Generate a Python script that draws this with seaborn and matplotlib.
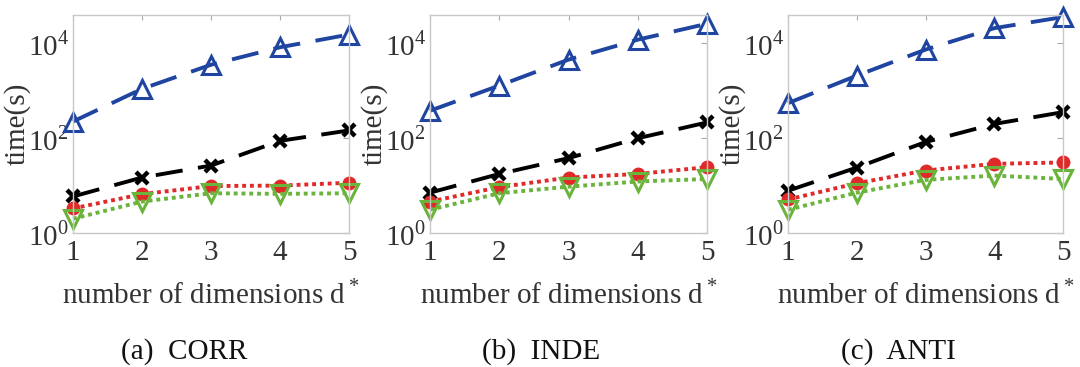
import matplotlib.pyplot as plt
import seaborn as sns
import numpy as np
import pandas as pd

sns.set_style("white")
plt.rcParams['font.family'] = ['Liberation Serif', 'DejaVu Serif']
plt.rcParams['mathtext.fontset'] = 'custom'
plt.rcParams['mathtext.rm'] = 'Liberation Serif'

# data
dims = [1, 2, 3, 4, 5]
panels = ["(a)  CORR", "(b)  INDE", "(c)  ANTI"]

blue_corr = [225, 1100, 3550, 8300, 15400]
black_corr = [5.9, 14.8, 26.5, 88, 146]
red_corr = [3.3, 6.6, 9.8, 10.0, 11.5]
green_corr = [2.0, 4.6, 6.9, 6.7, 6.9]

blue_inde = [380, 1290, 4550, 12000, 26000]
black_inde = [7.1, 17.6, 38, 100, 215]
red_inde = [4.6, 9.3, 14.8, 17.6, 24.5]
green_inde = [3.1, 6.9, 9.5, 12.2, 13.8]

blue_anti = [550, 2090, 7400, 21000, 36000]
black_anti = [7.8, 24, 83, 200, 355]
red_anti = [5.1, 11.2, 20.8, 28.8, 30.8]
green_anti = [3.1, 7.1, 13.2, 16.3, 13.8]

all_data = [
    [blue_corr, black_corr, red_corr, green_corr],
    [blue_inde, black_inde, red_inde, green_inde],
    [blue_anti, black_anti, red_anti, green_anti],
]

# series styles: color, marker, dashes, marker face
styles = [
    dict(color="#1f45a0", marker="^", dashes=(7, 4), mfc="none", ms=13, mew=2.2),
    dict(color="black", marker="x", dashes=(7, 4), mfc="black", ms=9, mew=3.2),
    dict(color="#e02a2a", marker="o", dashes=(1, 1), mfc="#e02a2a", ms=10, mew=0),
    dict(color="#6ab43c", marker="v", dashes=(1, 1), mfc="none", ms=13, mew=2.2),
]

fig = plt.figure(figsize=(10.8, 3.67), dpi=100, facecolor='w')
lefts = [73, 430, 788]
widths = [276, 277, 275]

for i in range(3):
    ax = fig.add_axes([lefts[i] / 1080, 1 - 233 / 367, widths[i] / 1080, 218 / 367])
    for vals, st in zip(all_data[i], styles):
        df = pd.DataFrame({"d": dims, "t": vals})
        sns.lineplot(data=df, x="d", y="t", ax=ax, color=st["color"], lw=2.8,
                     marker=st["marker"], markersize=st["ms"],
                     markerfacecolor=st["mfc"], markeredgecolor=st["color"],
                     markeredgewidth=st["mew"], dashes=False, clip_on=False)
        ax.lines[-1].set_dashes(st["dashes"])
    ax.set_yscale("log")
    ax.set_xlim(1, 5)
    ax.set_ylim(1, 10 ** 4.6)
    ax.set_xticks(dims)
    ax.set_yticks([1, 100, 10000])
    ax.set_yticklabels([r"$10^0$", r"$10^2$", r"$10^4$"])
    ax.tick_params(axis='both', which='both', direction='in', top=True, right=True,
                   labelsize=21, colors="#aaaaaa", labelcolor="#333333")
    ax.tick_params(axis='y', which='major', length=4, pad=3)
    ax.tick_params(axis='y', which='minor', length=2)
    ax.tick_params(axis='x', pad=5)
    for s in ax.spines.values():
        s.set_color("#c8c8c8")
        s.set_linewidth(1.0)
    ax.set_xlabel("number of dimensions d$^*$", fontsize=21, color="#333333", labelpad=10)
    ax.set_ylabel("time(s)", fontsize=21, color="#333333", labelpad=-2)
    fig.text((lefts[i] + widths[i] / 2 - 27) / 1080, 1 - 352 / 367, panels[i],
             fontsize=21, ha="center", va="center", color="#111111")

plt.savefig("out.png", dpi=100)
